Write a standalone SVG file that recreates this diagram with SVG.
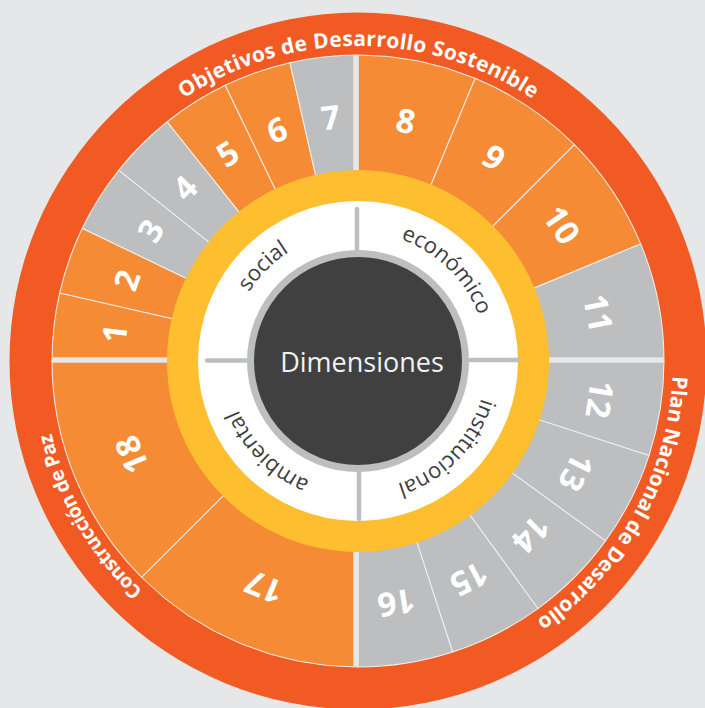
<svg xmlns="http://www.w3.org/2000/svg" xmlns:xlink="http://www.w3.org/1999/xlink" width="705" height="708" viewBox="0 0 705 708">
<style>
.o{fill:#f58b34}
.g{fill:#bcbec0}
.seg{stroke:#f0f0f0;stroke-width:1}
.num{font-family:"Open Sans","Liberation Sans",sans-serif;font-weight:700;font-size:33px;fill:#ffffff;text-anchor:middle}
.ring{font-family:"Open Sans","Liberation Sans",sans-serif;font-weight:700;font-size:21px;fill:#ffffff;text-anchor:middle}
.dim{font-family:"Open Sans","Liberation Sans",sans-serif;font-size:22px;fill:#3d3d3d;text-anchor:middle}
.div{stroke:#bcbec0;stroke-width:4.5;stroke-linecap:round}
</style>
<defs>
<path id="w7" d="M358,361 L358,55 A306,306 0 0 1 426.09,62.67 Z"/>
<path id="w4" d="M358,361 L358,55 A306,306 0 0 1 475.10,78.29 Z"/>
<path id="w5" d="M358,361 L358,55 A306,306 0 0 1 452.56,69.98 Z"/>
<path id="w2" d="M358,361 L358,55 A306,306 0 0 1 574.38,144.62 Z"/>
<path id="pOuter" d="M358,676 A315,315 0 1 1 358,46 A315,315 0 1 1 358,676"/>
<path id="pInner" d="M358,490 A129,129 0 1 1 358,232 A129,129 0 1 1 358,490"/>
</defs>
<rect width="705" height="708" fill="#e6e7e8"/>
<g id="outer-ring">
<circle cx="358" cy="361" r="348.5" fill="#f15a22"/>
<g transform="rotate(0.1 358 361)"><text class="ring" letter-spacing="0.3"><textPath href="#pOuter" xlink:href="#pOuter" startOffset="50%">Objetivos de Desarrollo Sostenible</textPath></text></g>
<g transform="rotate(119.1 358 361)"><text class="ring"><textPath href="#pOuter" xlink:href="#pOuter" startOffset="50%">Plan Nacional de Desarrollo</textPath></text></g>
<g transform="rotate(239.85 358 361)"><text class="ring" font-size="19.5" style="font-size:19.5px" letter-spacing="-0.6"><textPath href="#pOuter" xlink:href="#pOuter" startOffset="50%">Construcción de Paz</textPath></text></g>
</g>
<g id="segments">
<g id="s1"><use href="#w7" xlink:href="#w7" class="o seg" transform="rotate(270 358 361)"/><text class="num" x="358" y="128" transform="rotate(276.43 358 361)">1</text></g>
<g id="s2"><use href="#w7" xlink:href="#w7" class="o seg" transform="rotate(282.857 358 361)"/><text class="num" x="358" y="128" transform="rotate(289.29 358 361)">2</text></g>
<g id="s3"><use href="#w7" xlink:href="#w7" class="g seg" transform="rotate(295.714 358 361)"/><text class="num" x="358" y="128" transform="rotate(302.14 358 361)">3</text></g>
<g id="s4"><use href="#w7" xlink:href="#w7" class="g seg" transform="rotate(308.571 358 361)"/><text class="num" x="358" y="128" transform="rotate(315 358 361)">4</text></g>
<g id="s5"><use href="#w7" xlink:href="#w7" class="o seg" transform="rotate(321.429 358 361)"/><text class="num" x="358" y="128" transform="rotate(327.86 358 361)">5</text></g>
<g id="s6"><use href="#w7" xlink:href="#w7" class="o seg" transform="rotate(334.286 358 361)"/><text class="num" x="358" y="128" transform="rotate(340.71 358 361)">6</text></g>
<g id="s7"><use href="#w7" xlink:href="#w7" class="g seg" transform="rotate(347.143 358 361)"/><text class="num" x="358" y="128" transform="rotate(353.57 358 361)">7</text></g>
<g id="s8"><use href="#w4" xlink:href="#w4" class="o seg"/><text class="num" x="358" y="128" transform="rotate(11.25 358 361)">8</text></g>
<g id="s9"><use href="#w4" xlink:href="#w4" class="o seg" transform="rotate(22.5 358 361)"/><text class="num" x="358" y="128" transform="rotate(33.75 358 361)">9</text></g>
<g id="s10"><use href="#w4" xlink:href="#w4" class="o seg" transform="rotate(45 358 361)"/><text class="num" x="358" y="128" transform="rotate(56.25 358 361)">10</text></g>
<g id="s11"><use href="#w4" xlink:href="#w4" class="g seg" transform="rotate(67.5 358 361)"/><text class="num" x="358" y="128" transform="rotate(78.75 358 361)">11</text></g>
<g id="s12"><use href="#w5" xlink:href="#w5" class="g seg" transform="rotate(90 358 361)"/><text class="num" x="358" y="128" transform="rotate(99 358 361)">12</text></g>
<g id="s13"><use href="#w5" xlink:href="#w5" class="g seg" transform="rotate(108 358 361)"/><text class="num" x="358" y="128" transform="rotate(117 358 361)">13</text></g>
<g id="s14"><use href="#w5" xlink:href="#w5" class="g seg" transform="rotate(126 358 361)"/><text class="num" x="358" y="128" transform="rotate(135 358 361)">14</text></g>
<g id="s15"><use href="#w5" xlink:href="#w5" class="g seg" transform="rotate(144 358 361)"/><text class="num" x="358" y="128" transform="rotate(153 358 361)">15</text></g>
<g id="s16"><use href="#w5" xlink:href="#w5" class="g seg" transform="rotate(162 358 361)"/><text class="num" x="358" y="128" transform="rotate(171 358 361)">16</text></g>
<g id="s17"><use href="#w2" xlink:href="#w2" class="o seg" transform="rotate(180 358 361)"/><text class="num" x="358" y="128" transform="rotate(202.5 358 361)">17</text></g>
<g id="s18"><use href="#w2" xlink:href="#w2" class="o seg" transform="rotate(225 358 361)"/><text class="num" x="358" y="128" transform="rotate(247.5 358 361)">18</text></g>
</g>
<g id="connectors">
<rect x="353.3" y="55.5" width="5.4" height="611" fill="#e6e7e8"/>
<rect x="52.5" y="357.3" width="611" height="5.4" fill="#e6e7e8"/>
</g>
<g id="dimensions-ring">
<circle cx="358" cy="361" r="191" fill="#fdbe2f"/>
<circle cx="358" cy="361" r="160" fill="#ffffff"/>
<line class="div" x1="357" y1="209" x2="357" y2="252"/>
<line class="div" x1="470" y1="360" x2="518" y2="360"/>
<line class="div" x1="359" y1="469" x2="359" y2="519"/>
<line class="div" x1="207" y1="360.5" x2="250" y2="360.5"/>
<g id="dim-social" transform="rotate(315 358 361)"><text class="dim"><textPath href="#pInner" xlink:href="#pInner" startOffset="50%">social</textPath></text></g>
<g id="dim-economico" transform="rotate(44.3 358 361)"><text class="dim"><textPath href="#pInner" xlink:href="#pInner" startOffset="50%">económico</textPath></text></g>
<g id="dim-institucional" transform="rotate(134.5 358 361)"><text class="dim"><textPath href="#pInner" xlink:href="#pInner" startOffset="50%">institucional</textPath></text></g>
<g id="dim-ambiental" transform="rotate(225 358 361)"><text class="dim"><textPath href="#pInner" xlink:href="#pInner" startOffset="50%">ambiental</textPath></text></g>
</g>
<g id="center">
<circle cx="358" cy="361" r="107.5" fill="#404040" stroke="#bcbec0" stroke-width="7"/>
<text x="362" y="372" font-family="'Open Sans','Liberation Sans',sans-serif" font-size="27" fill="#f1f1f2" text-anchor="middle">Dimensiones</text>
</g>
</svg>
